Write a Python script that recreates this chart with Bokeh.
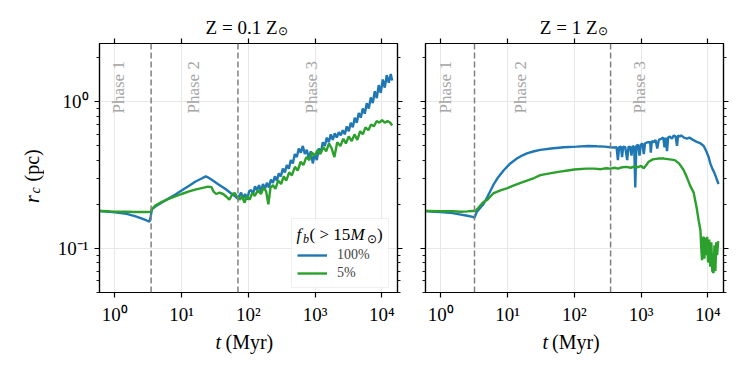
import math
from bokeh.plotting import figure
from bokeh.models import (Range1d, FixedTicker, LogAxis, Span, Label, Legend,
                          LegendItem, CustomJSTickFormatter, BoxAnnotation)
from bokeh.layouts import row, column
from bokeh.embed import file_html
from bokeh.resources import INLINE

# ---------------- data ----------------
x_tick_values = [1, 10, 100, 1000, 10000]
x_tick_labels = ["10⁰", "10¹", "10²", "10³", "10⁴"]
y_tick_values = [0.1, 1]
y_tick_labels = ["10⁻¹", "10⁰"]
y_minor_ticks = [0.05, 0.06, 0.07, 0.08, 0.09, 0.2, 0.3, 0.4, 0.5, 0.6, 0.7, 0.8, 0.9, 2]

phase_bounds_lowZ = [3.5, 70]
phase_bounds_solZ = [3.2, 350]
phase_names = ["Phase 1", "Phase 2", "Phase 3"]
legend_labels = ["100%", "5%"]
panel_titles = ["Z = 0.1 Z", "Z = 1 Z"]

# (t [Myr], r_c [pc])
lowZ_fb100 = [(0.6, 0.180), (0.8, 0.178), (1.0, 0.176), (1.5, 0.172), (2.0, 0.166), (2.5, 0.160),
              (3.0, 0.155), (3.3, 0.152), (3.45, 0.165), (3.6, 0.185), (4.0, 0.192), (5.0, 0.205),
              (6.0, 0.215), (8.0, 0.232), (10, 0.248), (13, 0.268), (16, 0.285), (20, 0.300),
              (23, 0.310), (25, 0.305), (28, 0.295), (35, 0.275), (45, 0.255), (55, 0.238),
              (65, 0.225), (70, 0.218),
              (72, 0.225), (78, 0.24), (84, 0.22), (90, 0.235), (96, 0.215), (103, 0.245), (110, 0.25),
              (118, 0.235), (126, 0.265), (135, 0.25), (145, 0.27), (155, 0.245), (166, 0.275),
              (178, 0.255), (190, 0.28), (204, 0.26), (218, 0.295), (234, 0.28), (250, 0.31),
              (268, 0.29), (287, 0.325), (307, 0.31), (330, 0.35), (353, 0.33), (378, 0.37),
              (405, 0.35), (434, 0.40), (465, 0.38), (498, 0.44), (533, 0.42), (571, 0.48),
              (612, 0.45), (656, 0.50), (703, 0.44), (753, 0.47), (807, 0.41), (864, 0.46),
              (926, 0.38), (992, 0.44), (1063, 0.40), (1139, 0.48), (1220, 0.45), (1307, 0.53),
              (1400, 0.50), (1500, 0.57), (1607, 0.53), (1722, 0.60), (1845, 0.55), (1977, 0.61),
              (2118, 0.57), (2269, 0.62), (2431, 0.59), (2605, 0.64), (2791, 0.60), (2990, 0.68),
              (3203, 0.63), (3432, 0.72), (3677, 0.67), (3940, 0.78), (4221, 0.72), (4522, 0.84),
              (4845, 0.78), (5191, 0.90), (5562, 0.83), (5959, 0.98), (6384, 0.90), (6840, 1.07),
              (7328, 0.98), (7851, 1.18), (8412, 1.06), (9012, 1.30), (9655, 1.15), (10345, 1.42),
              (11083, 1.25), (11874, 1.52), (12722, 1.35), (13630, 1.55), (14300, 1.40)]

lowZ_fb5 = [(0.6, 0.180), (0.8, 0.179), (1.0, 0.178), (1.5, 0.178), (2.0, 0.177), (2.5, 0.177),
            (3.0, 0.177), (3.45, 0.178), (3.6, 0.185), (4.0, 0.195), (5.0, 0.207), (6.0, 0.215),
            (8.0, 0.226), (10, 0.235), (13, 0.245), (16, 0.252), (20, 0.258), (25, 0.264),
            (28, 0.262), (30, 0.245), (33, 0.235), (37, 0.24), (42, 0.235), (47, 0.225),
            (52, 0.215), (58, 0.235), (63, 0.238), (68, 0.225),
            (75, 0.215), (80, 0.228), (88, 0.205), (95, 0.228), (105, 0.215), (115, 0.24),
            (125, 0.228), (140, 0.25), (155, 0.235), (170, 0.26), (185, 0.245), (200, 0.20),
            (215, 0.26), (235, 0.27), (255, 0.255), (280, 0.29), (310, 0.275), (340, 0.31),
            (370, 0.29), (410, 0.33), (450, 0.315), (500, 0.36), (550, 0.34), (610, 0.39),
            (670, 0.37), (740, 0.42), (820, 0.40), (900, 0.45), (990, 0.43), (1100, 0.47),
            (1200, 0.44), (1330, 0.49), (1470, 0.46), (1620, 0.52), (1780, 0.48), (1950, 0.42),
            (2150, 0.53), (2400, 0.50), (2650, 0.56), (2900, 0.52), (3200, 0.58), (3550, 0.54),
            (3900, 0.60), (4300, 0.55), (4750, 0.63), (5200, 0.60), (5700, 0.67), (6300, 0.64),
            (6900, 0.70), (7600, 0.68), (8400, 0.74), (9200, 0.72), (10100, 0.75), (11100, 0.72),
            (12200, 0.74), (13400, 0.72), (14300, 0.69)]

solZ_fb100 = [(0.6, 0.180), (0.8, 0.178), (1.0, 0.177), (1.5, 0.174), (2.0, 0.170), (2.5, 0.167),
              (3.0, 0.164), (3.2, 0.162), (3.45, 0.177), (4.35, 0.20), (5.0, 0.225), (6.1, 0.27),
              (7.2, 0.305), (8.7, 0.34), (11, 0.38), (13.8, 0.41), (16.5, 0.43), (19.5, 0.445),
              (25, 0.46), (31, 0.47), (45, 0.48), (70, 0.49), (109, 0.495), (160, 0.50),
              (218, 0.497), (280, 0.495), (345, 0.49), (400, 0.488),
              (430, 0.49), (450, 0.40), (470, 0.49), (500, 0.495), (520, 0.42), (540, 0.495),
              (580, 0.49), (620, 0.40), (650, 0.495), (690, 0.49), (720, 0.43), (750, 0.50),
              (790, 0.49), (820, 0.26), (850, 0.50), (900, 0.51), (950, 0.43), (990, 0.51),
              (1050, 0.52), (1100, 0.44), (1150, 0.52), (1250, 0.53), (1370, 0.53), (1400, 0.45),
              (1450, 0.54), (1550, 0.53), (1650, 0.55), (1750, 0.48), (1850, 0.55), (2000, 0.56),
              (2150, 0.57), (2250, 0.49), (2350, 0.57), (2450, 0.46), (2550, 0.57), (2700, 0.58),
              (2900, 0.56), (3100, 0.59), (3300, 0.58), (3460, 0.50), (3600, 0.59), (3800, 0.58),
              (4000, 0.59), (4400, 0.57), (4900, 0.56), (5300, 0.57), (6000, 0.55), (7000, 0.53),
              (7800, 0.52), (8700, 0.50), (9500, 0.46), (10300, 0.42), (10900, 0.38), (11700, 0.35),
              (12500, 0.33), (13500, 0.30), (14500, 0.275)]

solZ_fb5 = [(0.6, 0.180), (1.0, 0.179), (1.5, 0.179), (2.0, 0.178), (2.5, 0.179), (3.0, 0.180),
            (3.3, 0.180), (3.6, 0.188), (4.35, 0.207), (5.0, 0.215), (6.1, 0.237), (8.0, 0.25),
            (10, 0.258), (12.2, 0.268), (15, 0.278), (19.5, 0.29), (25, 0.302), (31, 0.316),
            (45, 0.326), (61, 0.334), (80, 0.340), (100, 0.345), (150, 0.350), (200, 0.350),
            (250, 0.347), (300, 0.352), (350, 0.350), (400, 0.355), (450, 0.350), (500, 0.356),
            (600, 0.36), (700, 0.355), (800, 0.362), (900, 0.358), (1000, 0.365), (1100, 0.352),
            (1200, 0.37), (1300, 0.39), (1500, 0.405), (1800, 0.41), (2200, 0.41), (2700, 0.405),
            (3200, 0.40), (3700, 0.38), (4300, 0.345), (4800, 0.31), (5400, 0.27), (6150, 0.24),
            (6800, 0.19), (7300, 0.155), (7760, 0.133), (8000, 0.10), (8200, 0.083), (8400, 0.115),
            (8700, 0.12), (8900, 0.085), (9200, 0.118), (9500, 0.09), (9800, 0.12), (10100, 0.08),
            (10500, 0.115), (10900, 0.075), (11300, 0.11), (11700, 0.07), (12200, 0.068),
            (12600, 0.105), (13000, 0.07), (13400, 0.11), (13800, 0.09), (14300, 0.112)]

# ---------------- style / geometry ----------------
FONT = "Liberation Serif"
BLUE = "#1f77b4"
GREEN = "#2ca02c"
PHASE_COLOR = "#a6a6a6"
XMIN, XMAX = 0.59, 17200
YMIN, YMAX = 0.05, 2.5
FW, FH, FT = 298, 249, 43          # frame width/height, page y of frame top
TOTAL_W = 739
TOP_H = 38                          # strip with the panel titles
BOT_Y = 330                         # page y where the x-label strip starts
BOT_H = 42
YLAB_W = 44
LX0, LX1 = math.log10(XMIN), math.log10(XMAX)
LY0, LY1 = math.log10(YMIN), math.log10(YMAX)


def at(px, py, fl):
    """page pixel -> data coordinates for a panel whose frame starts at page x = fl"""
    x = 10 ** (LX0 + (px - fl) / FW * (LX1 - LX0))
    y = 10 ** (LY1 - (py - FT) / FH * (LY1 - LY0))
    return x, y


def mk_label(x, y, s, size, style="normal", align="left", angle=0.0, color="black"):
    return Label(x=x, y=y, text=s, text_font=FONT, text_font_size=f"{size}px",
                 text_font_style=style, text_align=align, text_baseline="middle",
                 angle=angle, text_color=color)


def text(p, fl, px, py, s, size, **kw):
    x, y = at(px, py, fl)
    p.add_layout(mk_label(x, y, s, size, **kw))


def strip(w, h, y0):
    """blank figure whose data coordinates equal page pixels (x from 0, y from y0)"""
    p = figure(title=None, frame_width=w, frame_height=h,
               x_range=Range1d(0, w), y_range=Range1d(y0 + h, y0),
               min_border=0, x_axis_location=None, y_axis_location=None,
               output_backend="svg", toolbar_location=None)
    p.grid.visible = False
    p.outline_line_color = None
    p.background_fill_color = "white"
    p.border_fill_color = "white"
    return p


def tick_fmt(vals, labs):
    return CustomJSTickFormatter(args=dict(vals=vals, labs=labs), code="""
        for (let i = 0; i < vals.length; i++) {
            if (Math.abs(Math.log10(tick) - Math.log10(vals[i])) < 1e-6) return labs[i];
        }
        return "";
    """)


def style_axis(ax, ticks, minor, labels, vals=None, labs=None):
    ax.ticker = FixedTicker(ticks=ticks, minor_ticks=minor)
    ax.formatter = tick_fmt(vals, labs) if labels else CustomJSTickFormatter(code="return '';")
    ax.major_tick_in = 0
    ax.major_tick_out = 5
    ax.minor_tick_in = 0
    ax.minor_tick_out = 3
    ax.axis_line_color = "black"
    ax.axis_line_width = 1.2
    ax.major_tick_line_color = "black"
    ax.major_tick_line_width = 1.2
    ax.minor_tick_line_color = "black"
    ax.minor_tick_line_width = 0.9
    ax.major_label_text_font = FONT
    ax.major_label_text_font_size = "19px" if labels else "0px"
    ax.major_label_text_color = "black"
    ax.major_label_standoff = 6 if labels else 0
    ax.axis_label = None


def make_panel(bl, br, data100, data5, bounds, ylabels):
    p = figure(title=None, x_axis_type="log", y_axis_type="log",
               x_range=Range1d(XMIN, XMAX), y_range=Range1d(YMIN, YMAX),
               frame_width=FW, frame_height=FH,
               min_border_left=bl, min_border_right=br,
               min_border_top=FT - TOP_H, min_border_bottom=BOT_Y - FT - FH,
               output_backend="svg", toolbar_location=None)
    p.background_fill_color = "white"
    p.border_fill_color = "white"
    p.outline_line_color = "black"
    p.outline_line_width = 1.2

    style_axis(p.xaxis[0], x_tick_values, [], True, x_tick_values, x_tick_labels)
    style_axis(p.yaxis[0], y_tick_values, y_minor_ticks, ylabels, y_tick_values, y_tick_labels)
    top = LogAxis()
    style_axis(top, x_tick_values, [], False)
    p.add_layout(top, "above")
    right = LogAxis()
    style_axis(right, y_tick_values, y_minor_ticks, False)
    p.add_layout(right, "right")

    p.xgrid.ticker = FixedTicker(ticks=x_tick_values)
    p.ygrid.ticker = FixedTicker(ticks=y_tick_values)
    for g in (p.xgrid[0], p.ygrid[0]):
        g.grid_line_color = "#e8e8e8"
        g.grid_line_width = 1

    t1, r1 = zip(*data100)
    t5, r5 = zip(*data5)
    lb = p.line(list(t1), list(r1), line_color=BLUE, line_width=2.4)
    lg = p.line(list(t5), list(r5), line_color=GREEN, line_width=2.4)

    for b in bounds:
        p.add_layout(Span(location=b, dimension="height", line_color="#808080",
                          line_dash="6 3", line_width=1.5))
    return p, lb, lg


FL_L = YLAB_W + 55          # page x of left frame  (99)
FL_R = FL_L + FW + 10 + 18  # page x of right frame (425)
pL, bL, gL = make_panel(55, 10, lowZ_fb100, lowZ_fb5, phase_bounds_lowZ, True)
pR, bR, gR = make_panel(18, 16, solZ_fb100, solZ_fb5, phase_bounds_solZ, False)

# legend frame (box drawn behind the title text and the transparent legend)
bx0, by0 = at(291, 287, FL_L)
bx1, by1 = at(388, 218, FL_L)
pL.add_layout(BoxAnnotation(left=bx0, right=bx1, bottom=by0, top=by1,
                            fill_color="white", fill_alpha=0.85,
                            line_color="#cccccc", line_width=1))

# legend title (f_b (>15 M_sun)) as separate pieces
for px, py, s, size, style in ((296, 233.6, "f", 17, "italic"), (302.5, 238.5, "b", 12, "italic"),
                               (309, 233.6, "( > 15", 17, "normal"), (350, 233.6, "M", 17, "italic"),
                               (366.5, 238, "⊙", 12, "normal"), (376.5, 233.6, ")", 17, "normal")):
    text(pL, FL_L, px, py, s, size, style=style)

leg = Legend(items=[LegendItem(label=legend_labels[0], renderers=[bL]),
                    LegendItem(label=legend_labels[1], renderers=[gL])],
             location=(192, 5), margin=0, padding=6, spacing=2,
             label_height=16, glyph_height=16, glyph_width=30, label_standoff=10,
             label_text_font=FONT, label_text_font_size="14px",
             title="fb ( > 15 M⊙)", title_text_font=FONT, title_text_font_size="16px",
             title_text_alpha=0, title_standoff=2,
             border_line_alpha=0, background_fill_alpha=0)
pL.add_layout(leg)

# phase labels
for p, fl, xs in ((pL, FL_L, [117.5, 192.5, 310.5]), (pR, FL_R, [445, 520, 638.5])):
    for name, px in zip(phase_names, xs):
        text(p, fl, px, 113, name, 17, angle=math.pi / 2, color=PHASE_COLOR)

# title strip
top_strip = strip(TOTAL_W, TOP_H, 0)
for s, right_x in zip(panel_titles, (277, 597)):
    top_strip.add_layout(mk_label(right_x, 26.8, s, 19, align="right"))
    top_strip.add_layout(mk_label(right_x + 0.5, 30.5, "⊙", 12))

# y-label strip
ylab_strip = strip(YLAB_W, BOT_Y - TOP_H, TOP_H)
ylab_strip.add_layout(mk_label(31.5, 197.5, "r", 20, style="italic", angle=math.pi / 2))
ylab_strip.add_layout(mk_label(35, 188, "c", 14, style="italic", angle=math.pi / 2))
ylab_strip.add_layout(mk_label(31.5, 176, "(pc)", 20, angle=math.pi / 2))

# x-label strip
bot_strip = strip(TOTAL_W, BOT_H, BOT_Y)
for tx, mx in ((215, 225), (542, 551.5)):
    bot_strip.add_layout(mk_label(tx, 341, "t", 20, style="italic"))
    bot_strip.add_layout(mk_label(mx, 341, "(Myr)", 20))

layout = column(top_strip, row(ylab_strip, pL, pR), bot_strip)
open("out.html", "w").write(file_html(layout, INLINE))
